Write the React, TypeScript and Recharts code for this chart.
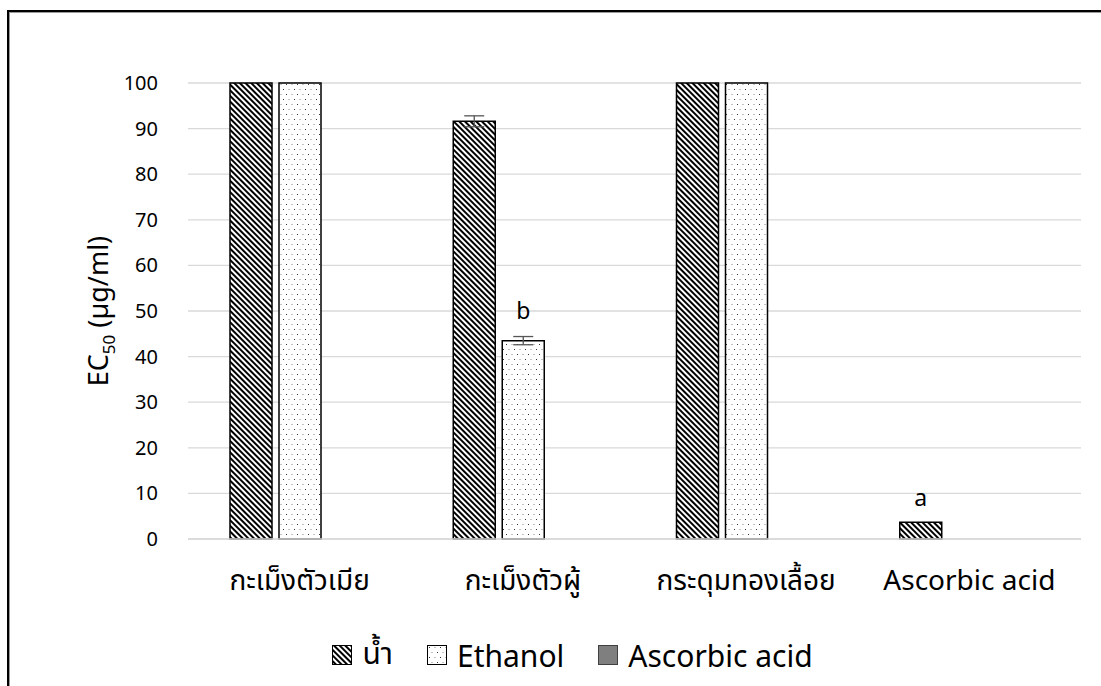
import React from 'react';
import { BarChart, Bar, XAxis, YAxis, CartesianGrid, ErrorBar, LabelList, Legend } from 'recharts';

const categories = ['กะเม็งตัวเมีย', 'กะเม็งตัวผู้', 'กระดุมทองเลื้อย', 'Ascorbic acid'];
const waterValues = [100, 91.6, 100, 3.7];
const waterErrors = [0, 1.2, 0, 0];
const ethanolValues = [100, 43.5, 100, null];
const ethanolErrors = [0, 0.9, 0, 0];
const ascorbicValues = [null, null, null, null];
const waterLetters = ['', '', '', 'a'];
const ethanolLetters = ['', 'b', '', ''];
const yTicks = [0, 10, 20, 30, 40, 50, 60, 70, 80, 90, 100];

const data = categories.map((name, i) => ({
    name,
    water: waterValues[i],
    waterErr: waterErrors[i],
    ethanol: ethanolValues[i],
    ethanolErr: ethanolErrors[i],
    ascorbic: ascorbicValues[i],
}));

const FONT = '"Noto Sans", "Noto Sans Thai", "DejaVu Sans", sans-serif';

function LetterLabel(letters: string[], lift: number) {
    return (props: any) => {
        const { x, y, width, index } = props;
        const t = letters[index];
        if (!t) return null;
        return (
            <text x={x + width / 2} y={y - lift} textAnchor="middle" fontSize={23} fill="#000" fontFamily={FONT}>
                {t}
            </text>
        );
    };
}

function XTick(props: any) {
    const { x, y, payload } = props;
    return (
        <text x={x} y={y + 43} textAnchor="middle" fontSize={28} fill="#000" fontFamily={FONT}>
            {payload.value}
        </text>
    );
}

function YTick(props: any) {
    const { x, y, payload } = props;
    return (
        <text x={x - 22} y={y + 7} textAnchor="end" fontSize={20} fill="#000" fontFamily={FONT}>
            {payload.value}
        </text>
    );
}

function YTitle(props: any) {
    const { viewBox } = props;
    const cx = 99;
    const cy = viewBox.y + viewBox.height / 2;
    return (
        <text x={cx} y={cy} transform={`rotate(-90 ${cx} ${cy})`} textAnchor="middle" fontSize={27} fill="#000" fontFamily={FONT}>
            EC<tspan fontSize={17} dy={7}>50</tspan>
            <tspan dy={-7}> (µg/ml)</tspan>
        </text>
    );
}

const legendItems = [
    { name: 'น้ำ', fill: 'url(#hatch)', stroke: '#000' },
    { name: 'Ethanol', fill: 'url(#dots)', stroke: '#000' },
    { name: 'Ascorbic acid', fill: '#7f7f7f', stroke: '#404040' },
];

function LegendContent() {
    return (
        <div style={{ display: 'flex', justifyContent: 'center', gap: 34, fontFamily: FONT, fontSize: 30, paddingRight: 64, paddingTop: 0 }}>
            {legendItems.map((it) => (
                <div key={it.name} style={{ display: 'flex', alignItems: 'center', gap: 10 }}>
                    <svg width={20} height={20}>
                        <rect x={0.5} y={0.5} width={19} height={19} fill={it.fill} stroke={it.stroke} />
                    </svg>
                    <span>{it.name}</span>
                </div>
            ))}
        </div>
    );
}

export default function App() {
    return (
        <div
            style={{
                position: 'absolute',
                left: 7,
                top: 10,
                width: 1094,
                height: 676,
                borderTop: '2px solid #000',
                borderLeft: '2px solid #000',
                boxShadow: 'inset 1px 1px 0 #999',
                background: '#fff',
            }}
        >
            <BarChart
                width={1090}
                height={672}
                data={data}
                margin={{ top: 71, right: 18, bottom: 7, left: 119 }}
                barSize={42}
                barGap={7}
            >
                <defs>
                    <pattern id="hatch" width={4} height={4} patternUnits="userSpaceOnUse" patternTransform="rotate(-45)">
                        <rect width={4} height={4} fill="#fff" />
                        <rect width={2} height={4} fill="#000" />
                    </pattern>
                    <pattern id="dots" width={11} height={10} patternUnits="userSpaceOnUse">
                        <rect width={11} height={10} fill="#fff" />
                        <rect x={2} y={2} width={1} height={1} fill="#333" />
                        <rect x={7.5} y={2} width={1} height={1} fill="#888" />
                        <rect x={4.5} y={7} width={1} height={1} fill="#888" />
                        <rect x={10} y={7} width={1} height={1} fill="#333" />
                    </pattern>
                </defs>
                <CartesianGrid vertical={false} stroke="#d9d9d9" strokeWidth={1.3} />
                <XAxis
                    dataKey="name"
                    height={93}
                    tickLine={false}
                    axisLine={{ stroke: '#d9d9d9', strokeWidth: 1.3 }}
                    tick={<XTick />}
                    interval={0}
                />
                <YAxis
                    width={60}
                    domain={[0, 100]}
                    ticks={yTicks}
                    axisLine={false}
                    tickLine={false}
                    tick={<YTick />}
                    label={<YTitle />}
                />
                <Legend verticalAlign="bottom" height={45} content={<LegendContent />} />
                <Bar dataKey="water" name="น้ำ" fill="url(#hatch)" stroke="#000" strokeWidth={1.5} isAnimationActive={false}>
                    <ErrorBar dataKey="waterErr" width={10} stroke="#555" strokeWidth={1.3} direction="y" />
                    <LabelList dataKey="water" content={LetterLabel(waterLetters, 16)} />
                </Bar>
                <Bar dataKey="ethanol" name="Ethanol" fill="url(#dots)" stroke="#000" strokeWidth={1.5} isAnimationActive={false}>
                    <ErrorBar dataKey="ethanolErr" width={10} stroke="#555" strokeWidth={1.3} direction="y" />
                    <LabelList dataKey="ethanol" content={LetterLabel(ethanolLetters, 22)} />
                </Bar>
                <Bar dataKey="ascorbic" name="Ascorbic acid" fill="#7f7f7f" stroke="#404040" isAnimationActive={false} />
            </BarChart>
        </div>
    );
}
